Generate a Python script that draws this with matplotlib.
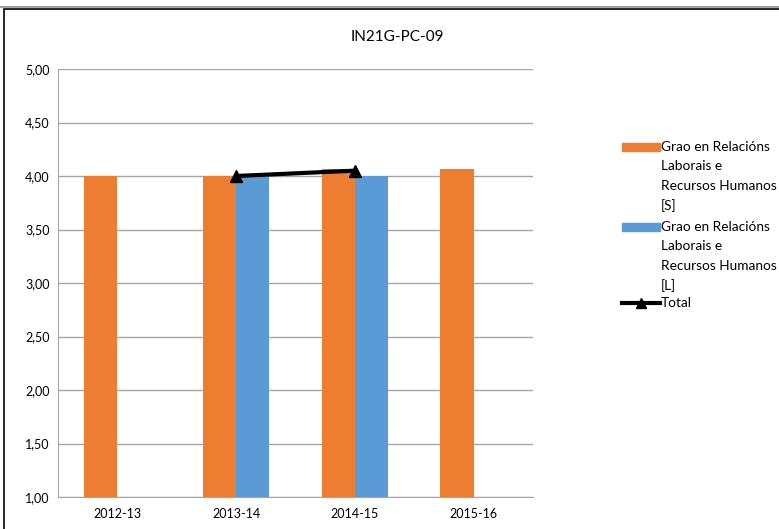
import numpy as np
import matplotlib.pyplot as plt
from matplotlib.patches import Rectangle
from matplotlib.lines import Line2D

plt.rcParams['font.family'] = ['Lato', 'DejaVu Sans']

# data
years = ['2012-13', '2013-14', '2014-15', '2015-16']
grao_s = [4.00, 4.00, 4.07, 4.07]
grao_l = [np.nan, 4.00, 4.00, np.nan]
total = [np.nan, 4.00, 4.05, np.nan]
label_s = 'Grao en Relacións\nLaborais e\nRecursos Humanos\n[S]'
label_l = 'Grao en Relacións\nLaborais e\nRecursos Humanos\n[L]'
label_t = 'Total'
title = 'IN21G-PC-09'

orange = '#ED7D31'
blue = '#5B9BD5'
grid = '#A6A6A6'

fig = plt.figure(figsize=(7.79, 5.29), dpi=100)
ax = fig.add_axes([58 / 779, 32 / 529, 475 / 779, 428 / 529])

x = np.arange(len(years))
w = 0.28
ax.bar(x - w / 2, grao_s, w, color=orange, zorder=2)
ax.bar(x + w / 2, grao_l, w, color=blue, zorder=2)
ax.plot(x, total, color='black', lw=3, marker='^', ms=9, zorder=3)

ax.set_xlim(-0.5, len(years) - 0.5)
ax.set_ylim(1, 5)
ax.set_yticks(np.arange(1, 5.01, 0.5))
ax.set_yticklabels([f'{v:.2f}'.replace('.', ',') for v in np.arange(1, 5.01, 0.5)])
ax.set_xticks(x)
ax.set_xticklabels(years)
ax.tick_params(length=0, labelsize=9, pad=8)
ax.tick_params(axis='y', pad=6)
ax.yaxis.grid(True, color=grid, lw=1, zorder=0)
for s in ['top', 'right']:
    ax.spines[s].set_visible(False)
ax.spines['left'].set_color(grid)
ax.spines['bottom'].set_color(grid)

fig.text(397 / 779, 1 - 37 / 529, title, ha='center', va='center', fontsize=11)

# legend drawn by hand so handles sit on the first text line
def ly(py):
    return 1 - py / 529

fs = 9.8
lh = 19.5
fig.add_artist(Rectangle((622 / 779, ly(151)), 38 / 779, 8 / 529,
                         color=orange, transform=fig.transFigure))
for i, t in enumerate(label_s.split('\n')):
    fig.text(661 / 779, ly(147 + i * lh), t, fontsize=fs, va='center')
fig.add_artist(Rectangle((622 / 779, ly(231)), 38 / 779, 8 / 529,
                         color=blue, transform=fig.transFigure))
for i, t in enumerate(label_l.split('\n')):
    fig.text(661 / 779, ly(227 + i * lh), t, fontsize=fs, va='center')
fig.add_artist(Line2D([622 / 779, 660 / 779], [ly(303), ly(303)], color='black', lw=3,
                      transform=fig.transFigure))
fig.add_artist(Line2D([641 / 779], [ly(303)], color='black', marker='^', ms=7,
                      transform=fig.transFigure))
fig.text(661 / 779, ly(303), label_t, fontsize=fs, va='center')

# outer frame
fig.add_artist(Line2D([0, 1], [ly(7), ly(7)], color='#A0A0A0', lw=1.5, transform=fig.transFigure))
fig.add_artist(Rectangle((3.5 / 779, -0.01), 1.1, ly(9.5) + 0.01, fill=False, ec='black', lw=1.2,
                         transform=fig.transFigure))

fig.savefig('out.png', dpi=100)
